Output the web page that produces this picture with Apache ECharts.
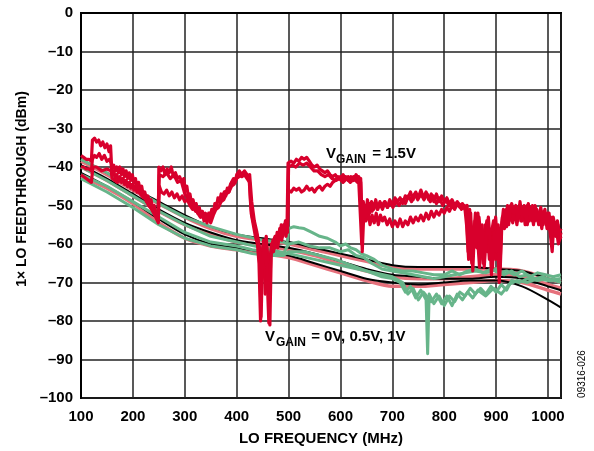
<!DOCTYPE html>
<html>
<head>
<meta charset="utf-8">
<script src="https://cdn.jsdelivr.net/npm/echarts@6/dist/echarts.min.js"></script>
<style>
  html, body { margin: 0; padding: 0; background: #fff; }
  #chart { width: 594px; height: 451px; }
</style>
</head>
<body>
<div id="chart"></div>
<script>
// LO feedthrough vs LO frequency, VGAIN = 0V / 0.5V / 1V / 1.5V
var FONT = 'Liberation Sans, Arial, sans-serif';

// x ticks 100..1000 (MHz), y ticks 0..-100 (dBm)
var xMin = 100, xMax = 1025, xStep = 100;
var yMin = -100, yMax = 0, yStep = 10;

// shared frequencies for the smooth low-gain curves
var bundleFreq = [100, 150, 200, 250, 300, 350, 400, 450, 500, 550, 600, 650, 700, 750, 800, 850, 900, 950, 1000, 1025];

// pink traces
var pink1 = [-38.5, -42, -46, -49.5, -53, -56, -58, -59, -60, -61.5, -63, -64.5, -66, -66.5, -66.5, -66.5, -66.5, -67, -69, -70];
var pink2 = [-40, -43.5, -47.5, -51.5, -55, -57.5, -59.5, -60.5, -61.5, -63, -65, -67, -68.5, -69, -69, -68.5, -68, -68.5, -70.5, -71.5];
var pink3 = [-42.5, -45.5, -49.5, -54.5, -58.5, -60.5, -61.5, -62.5, -63.5, -65.5, -67.5, -69.5, -71, -71, -70.5, -70, -69.5, -70, -72, -73];

// black traces
var black1 = [-38, -41.5, -45.5, -49, -52.5, -55.5, -57.5, -58.5, -59.5, -61, -62.5, -64, -65.5, -66, -66, -66, -66.5, -67, -69, -70];
var black2 = [-39.5, -43, -47, -51, -54.5, -57, -59, -60, -61, -62.5, -64.5, -66.5, -68, -68.5, -69, -69, -68.5, -69, -71, -72];
var black3 = [-41.5, -45, -49, -53.5, -57.5, -60, -61, -62, -63, -65, -67, -69, -70, -70.5, -70, -69.5, -69.5, -71, -74.5, -76.5];

// green traces [MHz, dBm]
var green1 = [[100,-38],[150,-41.5],[200,-45.5],[250,-49.5],[300,-53],[350,-55.5],[400,-57.5],[450,-59],[490,-59.5],[497,-60],[500,-56],[510,-55.5],[520,-55.8],[530,-56],[545,-57],[560,-58],[575,-58.5],[590,-59.5],[600,-60.5],[610,-60],[620,-61],[630,-61.5],[640,-62.5],[650,-63],[665,-64],[680,-65.5],[700,-66.5],[720,-67],[740,-67],[760,-67.5],[780,-68],[800,-68],[815,-67],[830,-68],[845,-67],[860,-66.5],[875,-67.5],[890,-66.5],[905,-67.5],[920,-67],[935,-68],[950,-67],[965,-68.5],[980,-67.5],[995,-68],[1010,-68.5],[1025,-68]];
var green2 = [[100,-42],[150,-45],[200,-49],[250,-53],[300,-57],[350,-59.5],[400,-60.5],[430,-61.5],[460,-62],[490,-62.5],[500,-60],[520,-59.5],[540,-60.5],[560,-61],[580,-61],[600,-62],[615,-61.5],[630,-63],[645,-63.5],[660,-65],[680,-66.5],[700,-67],[720,-67.5],[740,-68],[760,-68.5],[780,-69],[800,-68.5],[820,-68],[840,-67.5],[860,-67],[880,-67.5],[900,-66.5],[915,-68],[930,-67],[945,-68.5],[960,-68],[975,-69],[990,-68.5],[1005,-69.5],[1025,-69]];
var green3 = [[100,-43],[150,-46.5],[200,-50.5],[250,-55],[300,-58.5],[350,-60.5],[400,-61.5],[430,-62.5],[460,-63],[490,-63],[500,-62],[530,-62],[560,-63],[590,-64],[620,-65.5],[650,-67],[680,-68.5],[700,-69],[715,-70],[725,-72.5],[735,-71],[745,-74],[755,-72],[765,-74.5],[768,-88.5],[771,-73],[780,-75.5],[790,-73.5],[800,-76],[810,-73.5],[820,-75],[830,-72.5],[840,-73.5],[850,-71.5],[860,-73],[870,-71.5],[880,-73],[890,-71],[900,-72.5],[910,-70.5],[920,-72],[930,-69.5],[945,-70],[960,-69],[980,-69.5],[1000,-69],[1025,-70]];
var green4 = [[100,-40],[150,-43.5],[200,-47.5],[250,-51.5],[300,-55],[350,-58],[400,-59.5],[450,-61],[500,-62.5],[550,-64],[600,-65.5],[650,-67],[700,-68.5],[720,-70],[730,-73],[740,-71.5],[750,-74.5],[760,-72.5],[775,-75],[785,-73],[795,-75.5],[805,-73.5],[815,-76],[825,-73],[835,-74.5],[845,-72.5],[855,-74],[865,-72],[880,-73.5],[895,-71.5],[910,-73],[925,-70.5],[940,-69.5],[960,-70],[980,-69],[1000,-69.5],[1025,-69]];

// red traces, VGAIN = 1.5V [MHz, dBm]
var redA = [[100,-37],[105,-37.5],[110,-38],[115,-38],[120,-38.5],[122,-33],[126,-32.5],[130,-33.5],[134,-33],[138,-34.5],[142,-33.5],[146,-35],[150,-34],[154,-36],[157,-34.5],[159,-40],[163,-39.5],[166,-41],[169,-40],[172,-41.5],[175,-40],[178,-42],[181,-40.5],[184,-42.5],[187,-41],[190,-43],[193,-41.5],[196,-43.5],[199,-42],[202,-44],[205,-43],[208,-45.5],[211,-44],[214,-46],[217,-45],[220,-47.5],[223,-46.5],[226,-48.5],[229,-47.5],[232,-49.5],[235,-48.5],[238,-51],[241,-50],[244,-52.5],[247,-51.5],[249,-54],[250,-40],[254,-41],[258,-40],[262,-42],[266,-40.5],[270,-41.5],[274,-40],[278,-42.5],[282,-41.5],[286,-43],[290,-42.5],[295,-44],[298,-43],[301,-46],[304,-45],[307,-48],[310,-47],[313,-49.5],[316,-48.5],[319,-50.5],[322,-49.5],[325,-52],[328,-50.5],[331,-53],[334,-51.5],[337,-54],[340,-52],[343,-54.5],[346,-52],[349,-53.5],[352,-51],[355,-52],[358,-49.5],[361,-50.5],[364,-48],[367,-49],[370,-47],[373,-48.5],[376,-46.5],[379,-47.5],[382,-45.5],[385,-46.5],[388,-44.5],[391,-45],[394,-43],[397,-44],[400,-42],[405,-41],[410,-42],[415,-41],[420,-42],[424,-43],[427,-50],[430,-53],[435,-56],[440,-58],[444,-62],[447,-79],[450,-64],[454,-60],[458,-66],[462,-80.5],[466,-62],[470,-59],[474,-61],[478,-57],[482,-59],[486,-55],[490,-57],[494,-54],[497,-56],[499,-39],[505,-38.5],[510,-39],[515,-38],[520,-38.5],[525,-37.5],[530,-38],[535,-37.5],[540,-38.5],[545,-39.5],[550,-40],[555,-39.5],[560,-40.5],[565,-41],[570,-41.5],[575,-41],[580,-42],[585,-42.5],[590,-42],[595,-43],[600,-42.5],[605,-43.5],[610,-42.5],[615,-43.5],[620,-42.5],[625,-43.5],[630,-42],[635,-43],[638,-42.5],[641,-60],[644,-49],[648,-53],[652,-48.5],[656,-52],[660,-49],[664,-51],[668,-48.5],[672,-51],[676,-49],[680,-50],[685,-49],[690,-50.5],[695,-48.5],[700,-50],[705,-48],[710,-49],[715,-48],[720,-49.5],[725,-47.5],[730,-48],[735,-46.5],[740,-48.5],[745,-46.5],[750,-48],[755,-46],[760,-48],[765,-46.5],[770,-48.5],[775,-47],[780,-49],[785,-47],[790,-49],[795,-47.5],[800,-49],[805,-48],[810,-49.5],[815,-48.5],[820,-50],[825,-49],[830,-50],[835,-49.5],[840,-51],[843,-55],[846,-62],[849,-51],[853,-65],[857,-56],[861,-60],[865,-52],[869,-64],[873,-55],[877,-66],[881,-58],[885,-53],[889,-60],[893,-66],[896,-57],[900,-62],[904,-55],[907,-68],[910,-56],[914,-51],[918,-54],[922,-50],[926,-53],[930,-49.5],[934,-52],[938,-50],[942,-54],[946,-49],[950,-53],[954,-50],[958,-54],[962,-49.5],[966,-53],[970,-50],[974,-54],[978,-51],[982,-55],[986,-50.5],[990,-54],[994,-51],[998,-56],[1002,-52],[1006,-58],[1010,-53],[1014,-56],[1018,-54],[1022,-57],[1025,-56]];
var redB = [[100,-40],[105,-40],[110,-40.5],[115,-40.5],[120,-41],[122,-38],[126,-37],[130,-37.5],[135,-36.5],[140,-38],[145,-37],[150,-38.5],[155,-38],[158,-39],[160,-42],[163,-41],[166,-43],[169,-42],[172,-43.5],[175,-42.5],[178,-44],[181,-43],[184,-44.5],[187,-43.5],[190,-45],[193,-44],[196,-45.5],[199,-44.5],[202,-46],[205,-45],[208,-46.5],[211,-45.5],[214,-47],[217,-46.5],[220,-48],[223,-47],[226,-49],[229,-48],[232,-50],[235,-49.5],[238,-51.5],[241,-51],[244,-53],[247,-52.5],[249,-54.5],[251,-45],[255,-46.5],[260,-47],[265,-46],[270,-47.5],[275,-46.5],[280,-48],[285,-47],[290,-48.5],[295,-47.5],[300,-49],[305,-48.5],[310,-50],[315,-51],[320,-50.5],[325,-52],[330,-53],[335,-52],[340,-54],[345,-53],[350,-54.5],[355,-52.5],[360,-51],[365,-50.5],[370,-49],[375,-48.5],[380,-47],[385,-46.5],[390,-45],[395,-44.5],[400,-43],[405,-42],[410,-42.5],[415,-42],[420,-43],[425,-44],[428,-52],[432,-55],[436,-58],[440,-60],[443,-65],[446,-80],[449,-62],[452,-59],[455,-73],[458,-61],[461,-64],[464,-81],[467,-60],[471,-62],[475,-58],[479,-61],[483,-56],[487,-59],[491,-55],[495,-58],[498,-55],[500,-46],[505,-46.5],[510,-45.5],[515,-46],[520,-45.5],[525,-46.5],[530,-46],[535,-45],[540,-46],[545,-45.5],[550,-46.5],[555,-45.5],[560,-45],[565,-46],[570,-45],[575,-44.5],[580,-45],[585,-44],[590,-43.5],[595,-42.5],[600,-43],[605,-42],[610,-43],[615,-42.5],[620,-43.5],[625,-42.5],[630,-43.5],[635,-42.5],[639,-44],[642,-62],[645,-52],[649,-54],[653,-51.5],[657,-55],[661,-52.5],[665,-54.5],[669,-52],[673,-55],[677,-52.5],[681,-54],[685,-53],[690,-55],[695,-53.5],[700,-55.5],[705,-54],[710,-55.5],[715,-53.5],[720,-55.5],[725,-54],[730,-55],[735,-53],[740,-54.5],[745,-53],[750,-54],[755,-52.5],[760,-54],[765,-52],[770,-53.5],[775,-51.5],[780,-53],[785,-51.5],[790,-52.5],[795,-51],[800,-52],[805,-50.5],[810,-51.5],[815,-50],[820,-51],[825,-49.5],[830,-50.5],[835,-50],[840,-51],[844,-50],[847,-58],[851,-52],[855,-67],[859,-54],[863,-61],[867,-53],[871,-59],[875,-65],[879,-55],[883,-62],[887,-56],[891,-68],[895,-58],[899,-53],[903,-60],[906,-70],[909,-58],[912,-53],[916,-56],[920,-51],[924,-55],[928,-50],[932,-54.5],[936,-51],[940,-55],[944,-50.5],[948,-54],[952,-51],[956,-55],[960,-50],[964,-54],[968,-51],[972,-55],[976,-50.5],[980,-54],[984,-52],[988,-56],[992,-51.5],[996,-55],[1000,-52],[1004,-57],[1008,-62],[1011,-55],[1015,-58],[1019,-55],[1022,-59],[1025,-58]];
var redC = [[100,-42],[110,-43],[120,-44],[123,-40],[130,-40],[140,-41],[150,-40.5],[158,-41],[160,-43],[170,-44],[180,-43],[190,-45],[200,-44.5],[210,-46.5],[220,-47],[230,-50],[240,-51.5],[248,-53],[251,-42],[258,-42.5],[265,-41.5],[272,-43],[279,-42],[286,-44],[293,-43.5],[300,-47],[307,-48.5],[314,-50],[321,-51.5],[328,-51],[335,-52.5],[342,-54],[349,-52],[356,-51],[363,-49],[370,-48],[377,-46.5],[384,-46],[391,-44],[398,-43],[405,-42.5],[412,-41.5],[419,-42.5],[425,-42],[429,-49],[434,-54],[439,-57],[444,-61],[448,-70],[452,-62],[457,-58],[461,-68],[465,-63],[469,-60],[474,-58],[479,-60],[484,-56],[489,-58],[495,-54],[498,-57],[500,-40],[507,-39.5],[514,-40],[521,-39],[528,-39.5],[535,-39],[542,-40],[549,-41],[556,-41],[563,-42],[570,-42.5],[577,-42],[584,-43],[591,-43.5],[598,-43],[605,-44],[612,-43],[619,-44],[626,-43],[633,-44],[639,-43],[642,-55],[646,-50],[651,-52],[656,-49.5],[661,-51.5],[666,-49.5],[671,-51],[676,-49.5],[681,-51],[686,-49],[691,-50.5],[696,-49],[701,-50.5],[707,-49],[713,-50],[719,-48.5],[725,-49.5],[731,-47.5],[737,-49],[743,-47],[749,-48.5],[755,-47],[761,-48.5],[767,-47],[773,-49],[779,-47.5],[785,-49.5],[791,-48],[797,-50],[803,-48.5],[809,-50],[815,-49],[821,-50.5],[827,-49.5],[833,-51],[839,-50],[843,-52],[847,-64],[851,-54],[856,-60],[860,-52],[864,-58],[868,-66],[872,-56],[877,-60],[882,-54],[887,-64],[891,-57],[895,-54],[899,-64],[903,-56],[908,-66],[911,-55],[915,-52],[920,-55.5],[925,-51],[930,-54],[935,-50.5],[940,-53.5],[945,-50],[950,-54],[955,-51],[960,-55],[965,-50.5],[970,-54],[975,-50],[980,-53.5],[985,-51],[990,-55],[995,-52],[1000,-56],[1005,-53],[1010,-57],[1015,-55],[1020,-60],[1025,-57]];

var RED = '#d8002c', PINK = '#e6717c', GREEN = '#67b58a', BLACK = '#000000';

function withFreq(vals) {
  return bundleFreq.map(function (f, i) { return [f, vals[i]]; });
}

function line(data, color, width, smooth) {
  return {
    type: 'line',
    data: data,
    showSymbol: false,
    smooth: smooth ? 0.3 : false,
    lineStyle: { color: color, width: width, join: 'round' },
    emphasis: { disabled: true },
    silent: true
  };
}

var series = [
  line(withFreq(pink1), PINK, 3.5, true),
  line(withFreq(pink2), PINK, 3.5, true),
  line(withFreq(pink3), PINK, 3.5, true),
  line(withFreq(black1), BLACK, 2, true),
  line(withFreq(black2), BLACK, 2, true),
  line(withFreq(black3), BLACK, 2, true),
  line(green1, GREEN, 3, false),
  line(green2, GREEN, 3, false),
  line(green3, GREEN, 3, false),
  line(green4, GREEN, 3, false),
  line(redC, RED, 3.2, false),
  line(redB, RED, 3.2, false),
  line(redA, RED, 3.2, false)
];

var chart = echarts.init(document.getElementById('chart'));

var option = {
  animation: false,
  backgroundColor: '#fff',
  grid: {
    left: 81, right: 33, top: 13, bottom: 53,
    show: true, borderColor: '#000', borderWidth: 2
  },
  xAxis: {
    type: 'value',
    min: xMin, max: xMax, interval: xStep,
    name: 'LO FREQUENCY (MHz)',
    nameLocation: 'middle',
    nameGap: 33,
    nameTextStyle: { fontFamily: FONT, fontWeight: 'bold', fontSize: 15, color: '#000' },
    axisLine: { lineStyle: { color: '#000', width: 2 } },
    axisTick: { show: false },
    axisLabel: {
      fontFamily: FONT, fontWeight: 'bold', fontSize: 15, color: '#000', margin: 11, showMaxLabel: false,
      formatter: function (v) { return String(v); }
    },
    splitLine: { lineStyle: { color: '#222', width: 1.5 } }
  },
  yAxis: {
    type: 'value',
    min: yMin, max: yMax, interval: yStep,
    axisLine: { lineStyle: { color: '#000', width: 2 } },
    axisTick: { show: false },
    axisLabel: {
      fontFamily: FONT, fontWeight: 'bold', fontSize: 15, color: '#000', margin: 8,
      formatter: function (v) { return v < 0 ? '–' + (-v) : String(v); }
    },
    splitLine: { lineStyle: { color: '#222', width: 1.5 } }
  },
  graphic: [
    {
      type: 'text', x: 22, y: 189, rotation: Math.PI / 2,
      style: { text: '1× LO FEEDTHROUGH (dBm)', font: 'bold 14px ' + FONT, fill: '#000', align: 'center', verticalAlign: 'middle' }
    },
    { type: 'text', x: 326, y: 146, style: { text: 'V', font: 'bold 15px ' + FONT, fill: '#000' } },
    { type: 'text', x: 336, y: 154, style: { text: 'GAIN', font: 'bold 12px ' + FONT, fill: '#000' } },
    { type: 'text', x: 368, y: 146, style: { text: ' = 1.5V', font: 'bold 15px ' + FONT, fill: '#000' } },
    { type: 'text', x: 265, y: 329, style: { text: 'V', font: 'bold 15px ' + FONT, fill: '#000' } },
    { type: 'text', x: 276, y: 337, style: { text: 'GAIN', font: 'bold 12px ' + FONT, fill: '#000' } },
    { type: 'text', x: 307, y: 329, style: { text: ' = 0V, 0.5V, 1V', font: 'bold 15px ' + FONT, fill: '#000' } },
    {
      type: 'text', x: 582, y: 374, rotation: Math.PI / 2,
      style: { text: '09316-026', font: '10px ' + FONT, fill: '#000', align: 'center', verticalAlign: 'middle' }
    }
  ],
  series: series
};

chart.setOption(option);
</script>
</body>
</html>
